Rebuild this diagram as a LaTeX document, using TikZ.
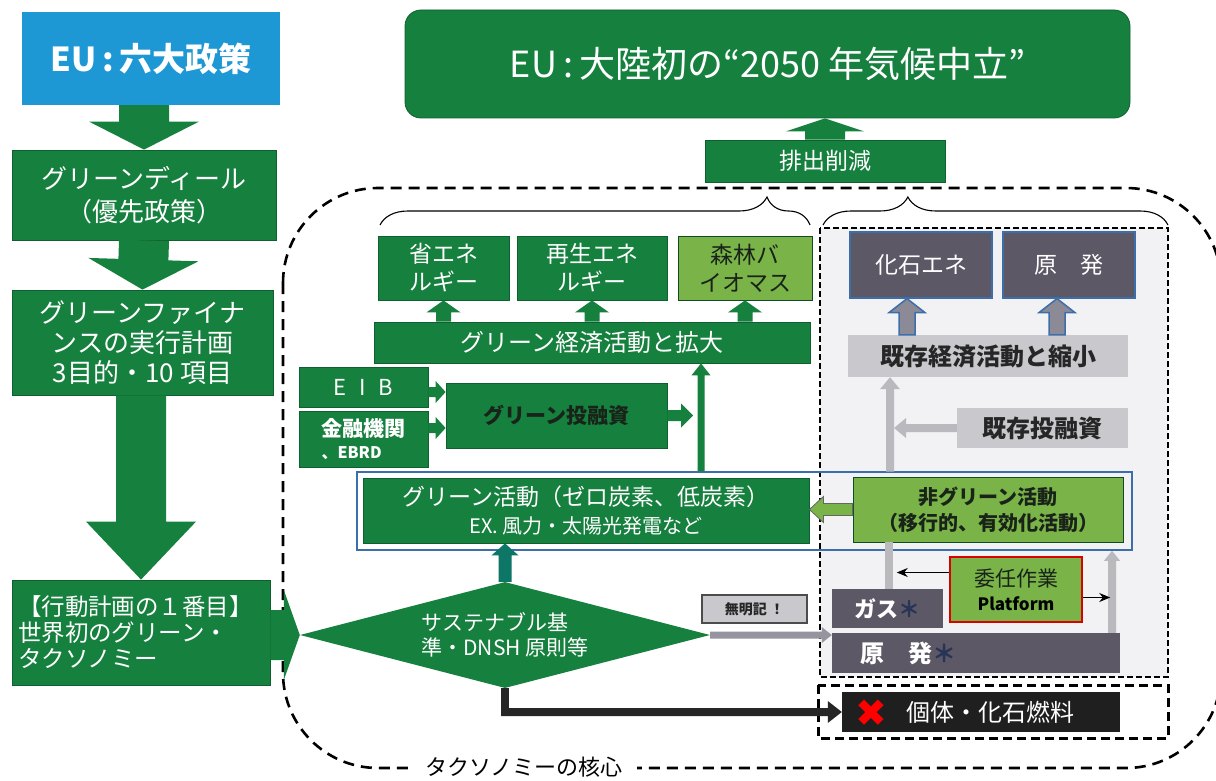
\documentclass[tikz,border=0pt]{standalone}
\usepackage{fontspec}
\setmainfont{Noto Sans CJK JP}
\newfontfamily\symfont{DejaVu Sans}
\usetikzlibrary{arrows.meta,shapes.geometric,decorations.pathreplacing,calc}
\definecolor{gr}{RGB}{22,128,62}
\definecolor{lgr}{RGB}{122,180,72}
\definecolor{blu}{RGB}{30,152,212}
\definecolor{dgr}{RGB}{92,88,102}
\definecolor{lgy}{RGB}{200,200,205}
\definecolor{rgf}{RGB}{242,242,245}
\definecolor{agy}{RGB}{185,185,190}
\definecolor{mgy}{RGB}{150,148,158}
\definecolor{ogy}{RGB}{140,138,150}
\definecolor{tl}{RGB}{14,118,102}
\definecolor{obl}{RGB}{60,110,170}
\definecolor{ast}{RGB}{40,52,85}
\definecolor{dtx}{RGB}{25,35,25}
\newcommand\fsz[2]{\fontsize{#1}{#2}\selectfont}
% block arrow: [style]{from}{to}{half shaft}{half head}{head length}
\newcommand\barrow[6][]{%
  \coordinate (ba-n) at ($(#3)!#6pt!(#2)$);
  \path[#1] ($(#2)!#4pt!90:(#3)$) -- ($(ba-n)!#4pt!90:(#3)$) -- ($(ba-n)!#5pt!90:(#3)$) -- (#3) -- ($(ba-n)!#5pt!-90:(#3)$) -- ($(ba-n)!#4pt!-90:(#3)$) -- ($(#2)!#4pt!-90:(#3)$) -- cycle;}
\begin{document}
\begin{tikzpicture}[x=1pt,y=-1pt,
  bx/.style={inner sep=0pt, align=center},
  gbox/.style={bx, fill=gr, draw=gr!75!black, line width=0.8pt, text=white},
  lbox/.style={bx, fill=lgr, draw=gr!60!black, line width=0.8pt, text=dtx},
  dbox/.style={bx, fill=dgr, text=white},
  ybox/.style={bx, fill=lgy, text=black!85},
  thinarr/.style={line width=1.3pt, -{Stealth[length=11pt, width=9pt]}}]
\useasboundingbox (0,0) rectangle (1216,781);
\fill[white] (0,0) rectangle (1216,781);

% outer dashed region
\draw[line width=2.6pt, dash pattern=on 11pt off 7pt, rounded corners=95pt] (283,188) rectangle (1221,768);
\node[fill=white, inner xsep=14pt, inner ysep=2pt, font=\fsz{22}{24}] (core) at (524,767) {タクソノミーの核心};

% right gray region and lower box
\draw[fill=rgf, line width=2.5pt, dash pattern=on 6pt off 3pt] (820,228) rectangle (1168,677);
\draw[fill=white, line width=3pt, dash pattern=on 9pt off 5pt] (818,685) rectangle (1168,738);

% braces
\draw[line width=1.1pt, decorate, decoration={brace, amplitude=28pt, aspect=0.9}] (380,225) -- (810,225);
\draw[line width=1.1pt, decorate, decoration={brace, amplitude=28pt, aspect=0.246}] (823,225) -- (1168,225);

% left column
\node[bx, fill=blu, text=white, minimum width=258pt, minimum height=93pt, font=\bfseries\fsz{33}{36}] (eu6) at (151,58.5) {EU\,:\,六大政策};
\node[gbox, minimum width=264pt, minimum height=90pt, font=\fsz{26}{33}] (gd) at (144,195) {グリーンディール\\（優先政策）};
\node[gbox, minimum width=261pt, minimum height=105pt, font=\fsz{26}{30}] (gf) at (142.5,342.5) {グリーンファイナ\\ンスの実行計画\\3目的・10 項目};
\node[gbox, align=left, text width=246pt, minimum width=258pt, minimum height=105pt, font=\fsz{23.5}{26}] (tx) at (141,632.5) {【行動計画の１番目】\\世界初のグリーン・\\タクソノミー};

% top
\node[gbox, rounded corners=16pt, minimum width=725pt, minimum height=108pt, font=\fsz{36}{40}] (top) at (767.5,64) {EU\,:\,大陸初の“2050 年気候中立”};
\node[gbox, minimum width=240pt, minimum height=42pt, font=\fsz{23}{24}] (hs) at (825,161) {排出削減};

% green side
\node[gbox, minimum width=131pt, minimum height=64pt, font=\fsz{23}{28}] (se) at (443.5,268) {省エネ\\ルギー};
\node[gbox, minimum width=150pt, minimum height=64pt, font=\fsz{23}{28}] (sa) at (592,268) {再生エネ\\ルギー};
\node[lbox, minimum width=134pt, minimum height=64pt, font=\fsz{23}{28}] (sr) at (745,268) {森林バ\\イオマス};
\node[gbox, minimum width=436pt, minimum height=41pt, font=\fsz{24}{26}] (ge) at (592,342.5) {グリーン経済活動と拡大};
\node[gbox, minimum width=129pt, minimum height=40pt, font=\fsz{22}{24}] (eib) at (363.5,387) {E\hspace{13pt}I\hspace{13pt}B};
\node[gbox, align=left, minimum width=129pt, minimum height=56pt, font=\bfseries\fsz{21}{22}] (kin) at (363.5,439) {金融機関\\{\fsz{16}{22}、EBRD}};
\node[gbox, text=dtx, minimum width=221pt, minimum height=65pt, font=\bfseries\fsz{21}{24}] (gi) at (556.5,415.5) {グリーン投融資};

% activities band
\node[draw=obl, line width=1.5pt, inner sep=0pt, minimum width=775pt, minimum height=78pt] (grp) at (744.5,511) {};
\node[gbox, minimum width=446pt, minimum height=65pt, font=\fsz{23}{28}] (ga) at (586,510.5) {グリーン活動（ゼロ炭素、低炭素）\\{\fsz{20}{28}EX. 風力・太陽光発電など}};
\node[lbox, minimum width=270pt, minimum height=65pt, font=\bfseries\fsz{20}{26}] (nong) at (988,509.5) {非グリーン活動\\（移行的、有効化活動）};

% diamond
\node[diamond, aspect=3.87, fill=gr, minimum width=410pt, minimum height=106pt, inner sep=0pt, text=white, align=left, font=\fsz{21}{25}] (dia) at (505,635) {サステナブル基\\準・DNSH 原則等};
\node[bx, fill=lgy, draw=black!70, line width=1.5pt, text=black!85, minimum width=105pt, minimum height=28pt, font=\bfseries\fsz{14}{16}] (muk) at (754.5,609) {無明記 ！};

% right side
\node[dbox, draw=obl, line width=1.2pt, minimum width=142pt, minimum height=66pt, font=\fsz{23}{26}] (kaseki) at (921,265) {化石エネ};
\node[dbox, draw=obl, line width=1.2pt, minimum width=132pt, minimum height=66pt, font=\fsz{23}{26}] (gen1) at (1069,265) {原　発};
\node[ybox, minimum width=280pt, minimum height=42pt, font=\bfseries\fsz{24}{26}] (kz) at (988,356) {既存経済活動と縮小};
\node[ybox, minimum width=171pt, minimum height=40pt, font=\bfseries\fsz{24}{26}] (kt) at (1042.5,428) {既存投融資};
\node[lbox, draw=red!85!black, line width=2.5pt, minimum width=132pt, minimum height=65pt, font=\fsz{21}{24}] (ins) at (1016,589.5) {委任作業\\{\bfseries\fsz{17}{22}\color{black}Platform}};
\node[dbox, minimum width=111pt, minimum height=39pt, font=\bfseries\fsz{22}{24}] (gas) at (887.5,608.5) {ガス\textcolor{ast}{＊}};
\node[dbox, align=left, text width=232pt, inner xsep=28pt, minimum width=288pt, minimum height=40pt, font=\bfseries\fsz{24}{26}] (gen2) at (976,653) {原　発\textcolor{ast}{＊}};
\node[bx, fill=black!88, text=white, align=left, text width=252pt, inner xsep=13pt, minimum width=278pt, minimum height=40pt, font=\fsz{24}{26}] (ind) at (981,712) {\smash{\raisebox{-5pt}{\symfont\fsz{38}{38}\color{red}✖}}\hspace{20pt}個体・化石燃料};

% ---- arrows ----
\coordinate (a1s) at (eu6.south -| gd.north);
\barrow[fill=gr]{a1s}{gd.north}{25}{55}{28}
\barrow[fill=gr]{gd.south}{gf.north}{25}{55}{30}
\coordinate (a3s) at (gf.south -| tx.north);
\barrow[fill=gr]{a3s}{tx.north}{25}{55}{58}
\coordinate (txe) at (tx.east |- dia.west);
\barrow[fill=gr]{txe}{dia.west}{25}{45}{16}

\coordinate (hsT) at (hs.north |- top.south);
\barrow[fill=gr]{hs.north}{hsT}{20}{39}{13}

\foreach \b in {se,sa,sr}{
  \coordinate (ut) at (ge.north -| \b.south);
  \barrow[fill=gr]{ut}{\b.south}{7.5}{17}{12}
}

\coordinate (e1s) at ($(eib.east)+(0,5)$);
\coordinate (e1e) at (e1s -| gi.west);
\barrow[fill=gr]{e1s}{e1e}{5}{11}{10}
\coordinate (k1s) at ($(kin.east)+(0,-11)$);
\coordinate (k1e) at (k1s -| gi.west);
\barrow[fill=gr]{k1s}{k1e}{5}{11}{10}

\coordinate (vtop) at ($(grp.north)+(-43.5,0)$);
\coordinate (vend) at (vtop |- ge.south);
\barrow[fill=gr]{vtop}{vend}{3.5}{9.5}{12}
\coordinate (g1e) at ($(gi.east -| vtop)+(-8,0)$);
\barrow[fill=gr]{gi.east}{g1e}{5.5}{12}{12}

\coordinate (t1e) at (dia.north |- ga.south);
\barrow[fill=tl]{dia.north}{t1e}{6.5}{13.5}{12}

\coordinate (g2e) at (gas.west |- dia.east);
\barrow[fill=mgy]{dia.east}{g2e}{3.5}{8}{10}

\coordinate (bk) at (dia.south |- ind.west);
\draw[line width=8pt, draw=black!85] (dia.south) -- ($(bk)+(0,4)$);
\coordinate (bk2) at ($(bk)+(-4,0)$);
\barrow[fill=black!85]{bk2}{ind.west}{4}{11}{14}

\coordinate (n1e) at (ga.east |- nong.west);
\barrow[fill=lgr, draw=gray!80!black, line width=0.8pt]{nong.west}{n1e}{6}{13}{14}

\coordinate (r1s) at ($(nong.north)+(-98,-5)$);
\coordinate (r1e) at (r1s |- kz.south);
\barrow[fill=agy]{r1s}{r1e}{4}{10}{12}
\coordinate (r2e) at ($(kt.west -| r1s)+(4,0)$);
\barrow[fill=agy]{kt.west}{r2e}{4}{10}{12}
\coordinate (l3s) at ($(nong.south)+(-99,0)$);
\coordinate (l3e) at (l3s |- gas.north);
\draw[line width=8pt, agy] (l3s) -- (l3e);
\coordinate (l4s) at ($(gen2.north)+(136,0)$);
\coordinate (l4e) at (l4s |- grp.south);
\barrow[fill=agy]{l4s}{l4e}{4}{8}{10}

\draw[thinarr] ($(ins.west)+(0,-17)$) -- ($(ins.west)+(-52,-17)$);
\draw[thinarr] ($(ins.east)+(0,8)$) -- ($(ins.east)+(27,8)$);

\coordinate (o1s) at ($(kz.north)+(-81,0)$);
\coordinate (o1e) at (o1s |- kaseki.south);
\barrow[fill=ogy, draw=obl, line width=1.5pt]{o1s}{o1e}{8}{18}{14}
\coordinate (o2s) at ($(kz.north)+(69,0)$);
\coordinate (o2e) at (o2s |- gen1.south);
\barrow[fill=ogy, draw=obl, line width=1.5pt]{o2s}{o2e}{8}{18}{14}
\end{tikzpicture}
\end{document}
